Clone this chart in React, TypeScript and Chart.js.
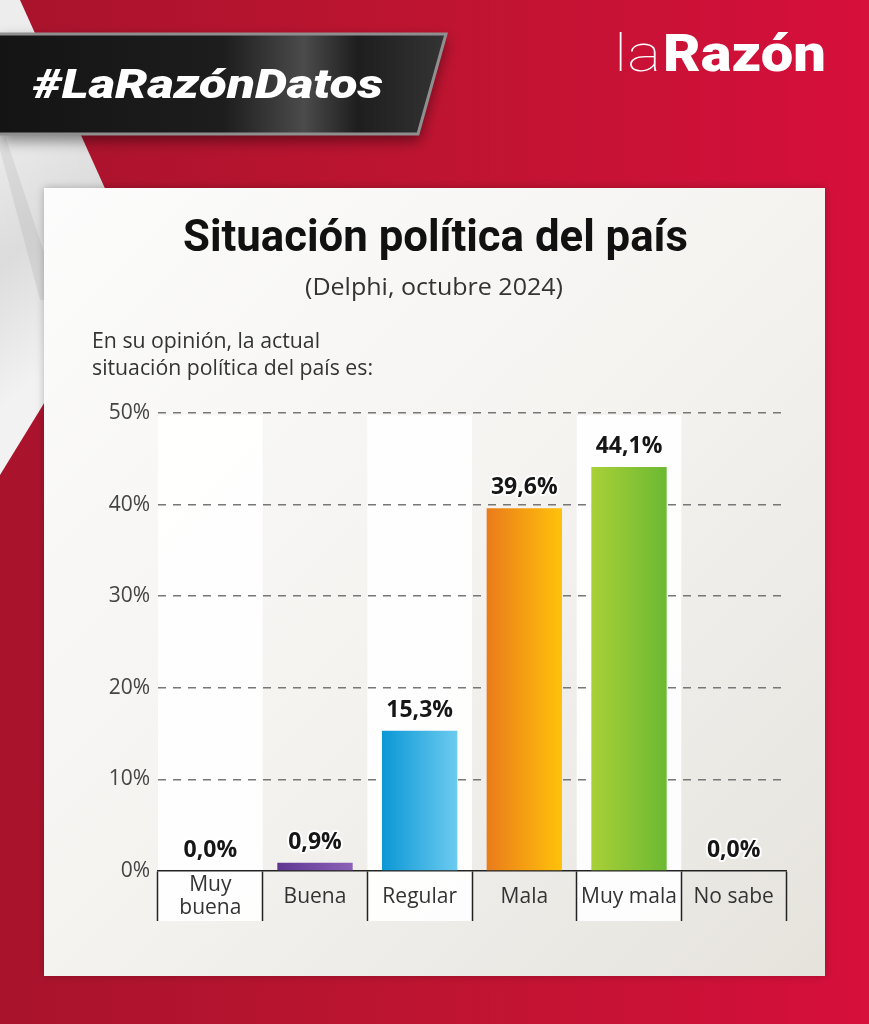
import React, { useEffect, useRef } from 'react';
import { Chart, registerables } from 'chart.js';

Chart.register(...registerables);

// ---- data ----
const categories: (string | string[])[] = [['Muy', 'buena'], 'Buena', 'Regular', 'Mala', 'Muy mala', 'No sabe'];
const values: number[] = [0.0, 0.9, 15.3, 39.6, 44.1, 0.0];
const yMax = 50;
const yStep = 10;
const titleText = 'Situación política del país';
const subtitleText = '(Delphi, octubre 2024)';
const questionLines: string[] = ['En su opinión, la actual', 'situación política del país es:'];
const hashtagText = '#LaRazónDatos';
const logoThin = 'la';
const logoBold = 'Razón';

// ---- styles ----
const barGradients: string[][] = [
  ['#6a3d9a', '#8a5db6'],
  ['#5e3692', '#8c62b8'],
  ['#0b97d5', '#6ccbf0'],
  ['#ea7b1b', '#ffc20a'],
  ['#a9d037', '#6cb933'],
  ['#6cb933', '#6cb933'],
];
const whiteColumns = [0, 2, 4];
const BAR_PCT = 0.72;

function fitText(ctx: CanvasRenderingContext2D, text: string, x: number, y: number, font: string, width: number, color: string) {
  ctx.save();
  ctx.font = font;
  ctx.fillStyle = color;
  ctx.textAlign = 'left';
  ctx.textBaseline = 'alphabetic';
  const w = ctx.measureText(text).width || width;
  ctx.translate(x, y);
  ctx.scale(width / w, 1);
  ctx.fillText(text, 0, 0);
  ctx.restore();
}

const backgroundPlugin = {
  id: 'bgPlugin',
  beforeDraw(chart: any) {
    const ctx: CanvasRenderingContext2D = chart.ctx;
    const W = chart.width;
    const H = chart.height;
    ctx.save();
    // red background
    const red = ctx.createLinearGradient(0, 0, W, 0);
    red.addColorStop(0, '#a9132c');
    red.addColorStop(0.5, '#be1431');
    red.addColorStop(1, '#d60f3b');
    ctx.fillStyle = red;
    ctx.fillRect(0, 0, W, H);

    // light wedge on the left
    ctx.beginPath();
    ctx.moveTo(0, 0);
    ctx.lineTo(20, 0);
    ctx.lineTo(135, 255);
    ctx.lineTo(0, 475);
    ctx.closePath();
    const lg = ctx.createLinearGradient(0, 120, 140, 300);
    lg.addColorStop(0, '#ededed');
    lg.addColorStop(0.5, '#dcdcdc');
    lg.addColorStop(1, '#f2f2f2');
    ctx.fillStyle = lg;
    ctx.fill();
    ctx.beginPath();
    ctx.moveTo(0, 150);
    ctx.lineTo(0, 120);
    ctx.lineTo(60, 300);
    ctx.lineTo(40, 300);
    ctx.closePath();
    ctx.fillStyle = 'rgba(0,0,0,0.06)';
    ctx.fill();

    // dark banner
    ctx.save();
    ctx.shadowColor = 'rgba(0,0,0,0.45)';
    ctx.shadowBlur = 14;
    ctx.shadowOffsetY = 6;
    ctx.beginPath();
    ctx.moveTo(0, 33);
    ctx.lineTo(447, 33);
    ctx.lineTo(419, 135);
    ctx.lineTo(0, 135);
    ctx.closePath();
    const bg = ctx.createLinearGradient(0, 0, 447, 0);
    bg.addColorStop(0, '#141414');
    bg.addColorStop(0.5, '#1d1d1d');
    bg.addColorStop(0.68, '#4b4b4b');
    bg.addColorStop(0.8, '#1e1e1e');
    bg.addColorStop(1, '#343434');
    ctx.fillStyle = bg;
    ctx.fill();
    ctx.restore();
    ctx.strokeStyle = '#8f8f8f';
    ctx.lineWidth = 3;
    ctx.beginPath();
    ctx.moveTo(0, 34);
    ctx.lineTo(446, 34);
    ctx.lineTo(418, 134);
    ctx.lineTo(0, 134);
    ctx.stroke();

    fitText(ctx, hashtagText, 33, 98, 'italic 900 40px Roboto', 350, '#ffffff');

    // logo
    fitText(ctx, logoThin, 614, 71, '100 52px Roboto', 47, '#ffffff');
    fitText(ctx, logoBold, 663, 71, '900 52px Roboto', 163, '#ffffff');

    // card
    ctx.save();
    ctx.shadowColor = 'rgba(0,0,0,0.25)';
    ctx.shadowBlur = 8;
    const cg = ctx.createLinearGradient(44, 188, 825, 976);
    cg.addColorStop(0, '#fcfcfc');
    cg.addColorStop(0.5, '#f4f3f0');
    cg.addColorStop(1, '#e6e3dd');
    ctx.fillStyle = cg;
    ctx.fillRect(44, 188, 781, 788);
    ctx.restore();

    // column strips
    const xs = chart.scales.x;
    const slot = (xs.right - xs.left) / categories.length;
    ctx.fillStyle = 'rgba(255,255,255,0.9)';
    whiteColumns.forEach((i) => {
      const cx = xs.getPixelForValue(i);
      ctx.fillRect(cx - slot / 2, chart.chartArea.top + 2, slot, xs.top + 50 - chart.chartArea.top - 2);
    });

    // titles
    fitText(ctx, titleText, 183, 251, '700 45px Roboto', 505, '#111111');
    fitText(ctx, subtitleText, 305, 295, '400 24px "Open Sans"', 258, '#333333');
    fitText(ctx, questionLines[0], 92, 348, '400 21px "Open Sans"', 228, '#333333');
    fitText(ctx, questionLines[1], 92, 375, '400 21px "Open Sans"', 281, '#333333');
    ctx.restore();
  },
};

const labelPlugin = {
  id: 'valueLabels',
  afterDatasetsDraw(chart: any) {
    const ctx: CanvasRenderingContext2D = chart.ctx;
    const meta = chart.getDatasetMeta(0);
    ctx.save();
    ctx.font = '700 23px "Open Sans"';
    ctx.textAlign = 'center';
    ctx.textBaseline = 'alphabetic';
    ctx.lineJoin = 'round';
    meta.data.forEach((bar: any, i: number) => {
      const txt = values[i].toFixed(1).replace('.', ',') + '%';
      const y = bar.y - 14;
      ctx.strokeStyle = '#ffffff';
      ctx.lineWidth = 4;
      ctx.strokeText(txt, bar.x, y);
      ctx.fillStyle = '#161616';
      ctx.fillText(txt, bar.x, y);
    });
    ctx.restore();
  },
};

export default function App() {
  const ref = useRef<HTMLCanvasElement | null>(null);
  useEffect(() => {
    document.body.style.margin = '0';
    if (!ref.current) return;
    const chart = new Chart(ref.current, {
      type: 'bar',
      data: {
        labels: categories as any,
        datasets: [
          {
            data: values,
            borderWidth: 0,
            barPercentage: BAR_PCT,
            categoryPercentage: 1,
            backgroundColor: (c: any) => {
              const cols = barGradients[c.dataIndex] || barGradients[0];
              const ch = c.chart;
              const xs = ch.scales && ch.scales.x;
              if (!xs || c.dataIndex == null) return cols[0];
              const px = xs.getPixelForValue(c.dataIndex);
              const half = ((xs.right - xs.left) / categories.length) * BAR_PCT / 2;
              if (!Number.isFinite(px) || !Number.isFinite(half) || half <= 0) return cols[0];
              const g = ch.ctx.createLinearGradient(px - half, 0, px + half, 0);
              g.addColorStop(0, cols[0]);
              g.addColorStop(1, cols[1]);
              return g;
            },
          },
        ],
      },
      options: {
        responsive: false,
        animation: false,
        devicePixelRatio: 1,
        layout: { padding: { top: 413, right: 83, bottom: 93, left: 0 } },
        plugins: { legend: { display: false }, tooltip: { enabled: false }, title: { display: false } },
        scales: {
          y: {
            min: 0,
            max: yMax,
            afterFit: (s: any) => { s.width = 158; },
            ticks: {
              stepSize: yStep,
              padding: 8,
              color: '#444444',
              font: { family: '"Open Sans"', size: 21, weight: 400 },
              callback: (v: any) => v + '%',
            },
            grid: {
              drawTicks: false,
              lineWidth: 1.5,
              color: (c: any) => (c.tick && c.tick.value === 0 ? 'rgba(0,0,0,0)' : '#777777'),
            },
            border: { display: false, dash: [8, 7] },
          },
          x: {
            afterFit: (s: any) => { s.height = 60; },
            ticks: {
              padding: -36,
              color: '#333333',
              crossAlign: 'center',
              font: { family: '"Open Sans"', size: 21, weight: 400, lineHeight: 1.1 },
            },
            grid: {
              offset: true,
              drawOnChartArea: false,
              drawTicks: true,
              tickLength: 50,
              tickColor: '#222222',
              tickWidth: 1.5,
            },
            border: { display: true, color: '#222222', width: 1.5 },
          },
        },
      },
      plugins: [backgroundPlugin, labelPlugin],
    });
    return () => chart.destroy();
  }, []);
  return (
    <div style={{ position: 'absolute', left: 0, top: 0, width: 869, height: 1024 }}>
      <canvas ref={ref} width={869} height={1024} style={{ display: 'block', width: 869, height: 1024 }} />
    </div>
  );
}
